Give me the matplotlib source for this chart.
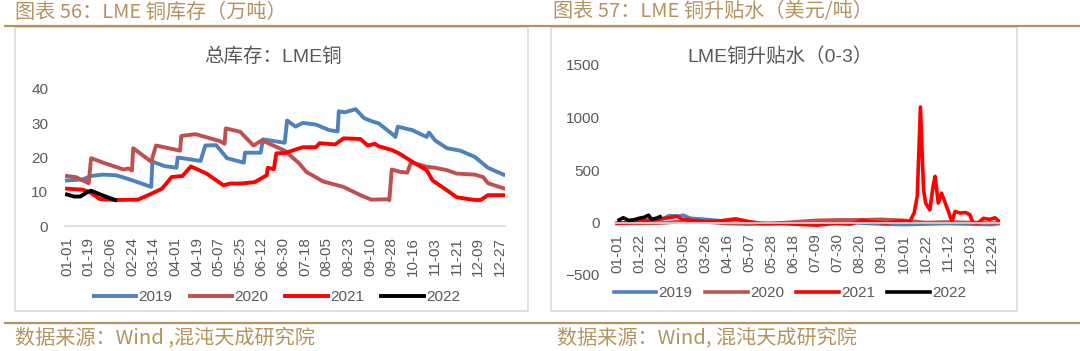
import matplotlib
matplotlib.use("Agg")

import matplotlib.pyplot as plt
import pandas as pd
from matplotlib.lines import Line2D
from matplotlib.patches import Rectangle

plt.rcParams['font.family'] = ['Liberation Sans', 'Noto Sans CJK SC', 'DejaVu Sans']

# --- LME copper total stocks (10k tonnes) -----------------------------------
stock_2019_dates = ["01-01", "01-14", "01-21", "01-31", "02-11", "02-23", "03-12", "03-13",
                    "03-23", "04-02", "04-03", "04-22", "04-26", "05-05", "05-14", "05-28",
                    "05-29", "06-11", "06-13", "07-01", "07-03", "07-10", "07-16", "07-27",
                    "08-07", "08-14", "08-15", "08-20", "08-29", "09-05", "09-12", "09-17",
                    "09-29", "10-01", "10-03", "10-15", "10-27", "10-29", "11-03", "11-13",
                    "11-24", "12-06", "12-17", "12-30"]
stock_2019 = [13.3, 13.6, 14.6, 15.0, 14.8, 13.5, 11.4, 18.8,
              17.5, 17.0, 20.0, 19.0, 23.5, 23.6, 19.8, 18.5,
              21.4, 21.4, 25.3, 24.3, 30.8, 29.0, 30.1, 29.6,
              28.0, 27.6, 33.5, 33.2, 34.1, 31.5, 30.5, 30.0,
              26.7, 26.0, 29.0, 28.0, 26.0, 27.3, 25.0, 22.7,
              22.0, 20.2, 17.0, 15.0]

stock_2020_dates = ["01-01", "01-08", "01-19", "01-21", "01-31", "02-17", "02-21", "02-24",
                    "02-25", "03-12", "03-16", "04-05", "04-06", "04-18", "05-08", "05-12",
                    "05-13", "05-25", "06-05", "06-12", "07-01", "07-13", "07-19", "08-02",
                    "08-19", "09-02", "09-11", "09-25", "09-26", "09-28", "10-05", "10-11",
                    "10-14", "10-27", "11-03", "11-13", "11-21", "12-06", "12-13", "12-17",
                    "12-30"]
stock_2020 = [14.6, 14.3, 12.5, 19.8, 18.5, 16.5, 16.8, 16.2,
              22.7, 18.8, 23.5, 22.0, 26.3, 26.8, 24.8, 24.0,
              28.5, 27.5, 23.5, 25.0, 22.0, 18.3, 15.8, 13.0,
              11.4, 9.0, 7.7, 7.8, 7.5, 16.5, 15.8, 15.6,
              18.6, 17.3, 17.0, 16.3, 15.3, 15.0, 14.3, 12.5,
              11.0]

stock_2021_dates = ["01-01", "01-14", "01-20", "01-28", "02-09", "03-01", "03-12", "03-21",
                    "03-29", "04-07", "04-14", "04-27", "05-11", "05-17", "05-25", "06-06",
                    "06-16", "06-17", "06-22", "06-24", "07-01", "07-16", "07-27", "07-30",
                    "08-12", "08-19", "09-02", "09-08", "09-14", "09-17", "09-28", "10-04",
                    "10-15", "10-27", "11-01", "11-13", "11-21", "12-06", "12-11", "12-17",
                    "12-30"]
stock_2021 = [10.9, 10.6, 9.9, 7.9, 7.6, 7.7, 9.4, 10.9,
              14.3, 14.6, 17.4, 15.3, 11.9, 12.4, 12.4, 12.8,
              14.8, 17.0, 16.6, 21.2, 21.3, 23.0, 23.0, 24.2,
              23.8, 25.6, 25.4, 23.5, 24.0, 23.3, 22.2, 21.2,
              18.8, 16.3, 13.3, 10.4, 8.4, 7.6, 7.6, 9.0,
              9.0]

stock_2022_dates = ["01-01", "01-07", "01-12", "01-18", "01-21", "01-28", "02-03", "02-10"]
stock_2022 = [9.2, 8.6, 8.6, 9.9, 10.3, 9.3, 8.5, 7.6]

stock_ticks = ["01-01", "01-19", "02-06", "02-24", "03-14", "04-01", "04-19", "05-07",
               "05-25", "06-12", "06-30", "07-18", "08-05", "08-23", "09-10", "09-28",
               "10-16", "11-03", "11-21", "12-09", "12-27"]

# --- LME copper 0-3 spread (USD/t) ------------------------------------------
spread_2019_dates = ["01-01", "01-22", "02-12", "02-20", "03-01", "03-05", "03-12", "03-26",
                     "04-16", "05-07", "05-28", "06-18", "07-09", "07-30", "08-20", "09-10",
                     "10-01", "10-22", "11-12", "12-03", "12-24", "12-31"]
spread_2019 = [-10, 0, 30, 65, 60, 70, 40, 30,
               10, 0, -10, -5, 0, 5, -5, -15,
               -20, -15, -10, -15, -20, -10]

spread_2020_dates = ["01-01", "01-22", "02-12", "03-05", "03-26", "04-16", "05-07", "05-28",
                     "06-18", "07-09", "07-30", "08-20", "09-10", "10-01", "10-22", "11-12",
                     "12-03", "12-24", "12-31"]
spread_2020 = [-5, -10, -5, 10, 5, -10, -15, -10,
               5, 20, 25, 25, 30, 20, 0, 5,
               0, -5, -5]

spread_2021_dates = ["01-02", "01-14", "01-27", "02-09", "02-19", "02-27", "03-04", "03-14",
                     "03-27", "04-09", "04-24", "05-06", "05-19", "06-08", "06-27", "07-10",
                     "07-27", "08-12", "08-22", "09-01", "09-14", "09-28", "10-07", "10-11",
                     "10-14", "10-17", "10-20", "10-22", "10-26", "10-29", "10-31", "11-03",
                     "11-06", "11-08", "11-11", "11-16", "11-19", "11-24", "11-29", "12-03",
                     "12-06", "12-11", "12-16", "12-22", "12-27", "12-31"]
spread_2021 = [-5, 0, 20, 30, 45, 60, 30, 20,
               10, 15, 35, 10, -10, -10, -20, -25,
               -10, -15, 20, 5, -5, 15, 10, 90,
               250, 1100, 310, 185, 120, 340, 440, 185,
               280, 230, 150, 10, 105, 90, 95, 75,
               0, -5, 40, 30, 45, 10]

spread_2022_dates = ["01-03", "01-07", "01-12", "01-17", "01-22", "01-27", "01-31", "02-03",
                     "02-07", "02-11"]
spread_2022 = [25, 45, 20, 25, 40, 50, 70, 30, 40, 55]

spread_ticks = ["01-01", "01-22", "02-12", "03-05", "03-26", "04-16", "05-07", "05-28",
                "06-18", "07-09", "07-30", "08-20", "09-10", "10-01", "10-22", "11-12",
                "12-03", "12-24"]

years = ["2019", "2020", "2021", "2022"]
colors = ["#4f81bd", "#c0504d", "#ff0000", "#000000"]

GOLD = "#b39461"
GREY_TXT = "#595959"
W, H = 1080, 351


def doy(dates):
    # day index on a common non-leap calendar
    return (pd.to_datetime(["2021-" + d for d in dates]).dayofyear - 1).to_numpy()


def fx(px):
    return px / W


def fy(py):
    return 1 - py / H


fig = plt.figure(figsize=(10.8, 3.51), dpi=100)

# --- frame decoration ---------------------------------------------------------
fig.add_artist(Line2D([fx(5), 1], [fy(26), fy(26)], color=GOLD, lw=1.6))
fig.add_artist(Line2D([fx(5), 1], [fy(323), fy(323)], color=GOLD, lw=1.6))
for x0, x1 in [(15, 528), (551, 1017)]:
    fig.add_artist(Rectangle((fx(x0), fy(311)), fx(x1 - x0), (311 - 27) / H,
                             transform=fig.transFigure, facecolor="none",
                             edgecolor="#d9d9d9", lw=1.2))

head_font = ['Noto Sans CJK SC', 'DejaVu Sans']
head_kw = dict(color=GOLD, fontsize=14.5, family=head_font, va="center", ha="left")
fig.text(fx(15), fy(12), "图表 56：LME 铜库存（万吨）", **head_kw)
fig.text(fx(553), fy(12), "图表 57：LME 铜升贴水（美元/吨）", **head_kw)
fig.text(fx(15), fy(339), "数据来源：Wind ,混沌天成研究院", **head_kw)
fig.text(fx(557), fy(339), "数据来源：Wind, 混沌天成研究院", **head_kw)

fig.text(fx(273), fy(57), "总库存：LME铜", color=GREY_TXT, fontsize=14, ha="center", va="center")
fig.text(fx(780), fy(57), "LME铜升贴水（0-3）", color=GREY_TXT, fontsize=14, ha="center", va="center")


def style_axis(ax, ticks, pad_y):
    for s in ["top", "right", "left"]:
        ax.spines[s].set_visible(False)
    ax.spines["bottom"].set_position(("data", 0))
    ax.spines["bottom"].set_color("#d9d9d9")
    ax.spines["bottom"].set_linewidth(1.2)
    ax.set_xticks(doy(ticks))
    ax.set_xticklabels(ticks, rotation=90)
    ax.tick_params(axis="x", length=0, pad=8, labelsize=11, labelcolor=GREY_TXT)
    ax.tick_params(axis="y", length=0, pad=pad_y, labelsize=11, labelcolor=GREY_TXT)
    ax.patch.set_alpha(0)


# --- left: stocks ------------------------------------------------------------
ax1 = fig.add_axes([fx(65), fy(226), fx(440), (226 - 89) / H])
stock_dates = [stock_2019_dates, stock_2020_dates, stock_2021_dates, stock_2022_dates]
stock_vals = [stock_2019, stock_2020, stock_2021, stock_2022]
h1 = []
for yr, c, d, v in zip(years, colors, stock_dates, stock_vals):
    ln, = ax1.plot(doy(d), v, color=c, lw=2.8, label=yr, solid_joinstyle="round")
    h1.append(ln)
ax1.set_xlim(-1.7, 364.2)
ax1.set_ylim(0, 40)
ax1.set_yticks([0, 10, 20, 30, 40])
style_axis(ax1, stock_ticks, 12)

# --- right: 0-3 spread -------------------------------------------------------
ax2 = fig.add_axes([fx(615), fy(275), fx(385), (275 - 65) / H])
spread_dates = [spread_2019_dates, spread_2020_dates, spread_2021_dates, spread_2022_dates]
spread_vals = [spread_2019, spread_2020, spread_2021, spread_2022]
h2 = []
for yr, c, d, v in zip(years, colors, spread_dates, spread_vals):
    ln, = ax2.plot(doy(d), v, color=c, lw=2.6, label=yr, solid_joinstyle="round")
    h2.append(ln)
ax2.set_xlim(-1.9, 364.8)
ax2.set_ylim(-500, 1500)
ax2.set_yticks([-500, 0, 500, 1000, 1500])
style_axis(ax2, spread_ticks, 11)

leg_kw = dict(loc="center", ncol=4, frameon=False, fontsize=11, handlelength=2.8,
              handletextpad=0.15, labelcolor=GREY_TXT, borderaxespad=0)
fig.legend(handles=h1, bbox_to_anchor=(fx(277), fy(297)), columnspacing=1.1, **leg_kw)
fig.legend(handles=h2, bbox_to_anchor=(fx(790), fy(293)), columnspacing=0.8, **leg_kw)

fig.savefig("out.png", dpi=100)
